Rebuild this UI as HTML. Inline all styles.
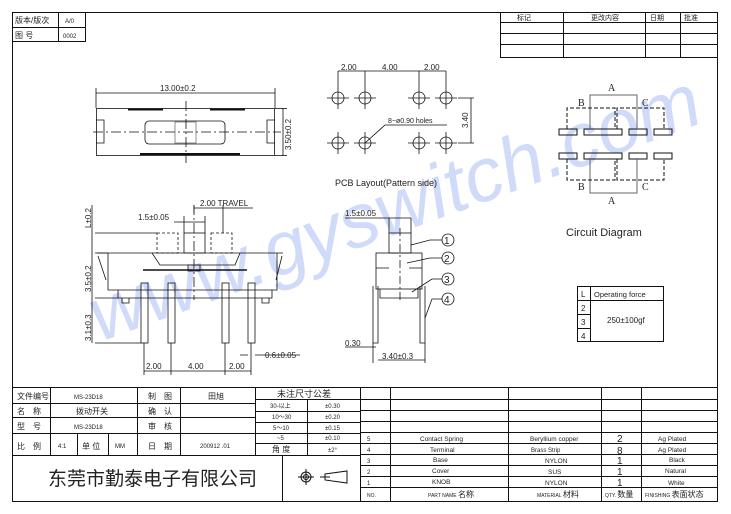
<!DOCTYPE html>
<html><head><meta charset="utf-8"><style>
html,body{margin:0;padding:0;background:#fff;}
svg{display:block;}
text{font-family:"Liberation Sans","Noto Sans CJK SC",sans-serif;fill:#222;}
</style></head><body>
<svg width="731" height="514" viewBox="0 0 731 514" xmlns="http://www.w3.org/2000/svg">
<!-- watermark -->
<text x="100" y="342" transform="rotate(-20 100 342)" font-size="76" font-style="italic" textLength="645" lengthAdjust="spacingAndGlyphs" style="fill:#d0daf9">www.gyswitch.com</text>

<g fill="none" stroke="#111" stroke-width="1">
<rect x="12.5" y="12.5" width="705" height="489"/>
<rect x="12.5" y="12.5" width="73" height="29"/>
<line x1="12" y1="27.5" x2="85" y2="27.5"/>
<line x1="58.5" y1="12" x2="58.5" y2="42"/>
<rect x="500.5" y="12.5" width="217" height="45"/>
<line x1="500" y1="22.5" x2="718" y2="22.5"/>
<line x1="500" y1="33.5" x2="718" y2="33.5"/>
<line x1="500" y1="44.5" x2="718" y2="44.5"/>
<line x1="563.5" y1="12" x2="563.5" y2="58"/>
<line x1="645.5" y1="12" x2="645.5" y2="58"/>
<line x1="680.5" y1="12" x2="680.5" y2="58"/>

<line x1="12" y1="387.5" x2="718" y2="387.5"/>
<line x1="12" y1="403.5" x2="255" y2="403.5"/>
<line x1="12" y1="417.5" x2="255" y2="417.5"/>
<line x1="12" y1="433.5" x2="255" y2="433.5"/>
<line x1="12" y1="455.5" x2="360" y2="455.5"/>
<line x1="50.5" y1="387" x2="50.5" y2="455"/>
<line x1="77.5" y1="433" x2="77.5" y2="455"/>
<line x1="108.5" y1="433" x2="108.5" y2="455"/>
<line x1="137.5" y1="387" x2="137.5" y2="455"/>
<line x1="180.5" y1="387" x2="180.5" y2="455"/>
<line x1="255.5" y1="387" x2="255.5" y2="455"/>
<line x1="307.5" y1="399" x2="307.5" y2="455"/>
<line x1="255" y1="399.5" x2="360" y2="399.5"/>
<line x1="255" y1="411.5" x2="360" y2="411.5"/>
<line x1="255" y1="422.5" x2="360" y2="422.5"/>
<line x1="255" y1="433.5" x2="360" y2="433.5"/>
<line x1="255" y1="443.5" x2="360" y2="443.5"/>
<line x1="282.5" y1="455" x2="282.5" y2="501"/>
<line x1="360.5" y1="387" x2="360.5" y2="501"/>
<line x1="390.5" y1="387" x2="390.5" y2="501"/>
<line x1="508.5" y1="387" x2="508.5" y2="501"/>
<line x1="601.5" y1="387" x2="601.5" y2="501"/>
<line x1="641.5" y1="387" x2="641.5" y2="501"/>
<line x1="360" y1="399.5" x2="718" y2="399.5"/>
<line x1="360" y1="410.5" x2="718" y2="410.5"/>
<line x1="360" y1="421.5" x2="718" y2="421.5"/>
<line x1="360" y1="432.5" x2="718" y2="432.5"/>
<line x1="360" y1="443.5" x2="718" y2="443.5"/>
<line x1="360" y1="454.5" x2="718" y2="454.5"/>
<line x1="360" y1="465.5" x2="718" y2="465.5"/>
<line x1="360" y1="476.5" x2="718" y2="476.5"/>
<line x1="360" y1="487.5" x2="718" y2="487.5"/>
<circle cx="306" cy="477" r="5"/><circle cx="306" cy="477" r="2.5"/>
<line x1="298" y1="477" x2="314" y2="477"/><line x1="306" y1="469" x2="306" y2="485"/>
<path d="M325 474 L347 471 L347 483 L325 480 Z"/><line x1="320" y1="477" x2="330" y2="477"/>
</g>

<g font-size="7">
<text x="15" y="23" font-size="8">版本/版次</text>
<text x="65" y="23" font-size="6">A/0</text>
<text x="15" y="38" font-size="8">图 号</text>
<text x="63" y="38" font-size="6">0002</text>
<text x="517" y="20" font-size="7">标记</text>
<text x="591" y="20" font-size="7">更改内容</text>
<text x="650" y="20" font-size="7">日期</text>
<text x="684" y="20" font-size="7">批准</text>

<text x="17" y="399" font-size="8">文件编号</text>
<text x="74" y="399" font-size="6">MS-23D18</text>
<text x="148" y="399" font-size="8">制　图</text>
<text x="208" y="399" font-size="8">田旭</text>
<text x="17" y="414" font-size="8">名　称</text>
<text x="76" y="414" font-size="8">拨动开关</text>
<text x="148" y="414" font-size="8">确　认</text>
<text x="17" y="429" font-size="8">型　号</text>
<text x="74" y="429" font-size="6">MS-23D18</text>
<text x="148" y="429" font-size="8">审　核</text>
<text x="17" y="449" font-size="8">比　例</text>
<text x="58" y="448" font-size="6">4:1</text>
<text x="82" y="449" font-size="8">单 位</text>
<text x="115" y="448" font-size="6">MM</text>
<text x="148" y="449" font-size="8">日　期</text>
<text x="200" y="448" font-size="6">200912 .01</text>
<text x="277" y="397" font-size="9">未注尺寸公差</text>
<text x="270" y="408" font-size="6">30-以上</text>
<text x="325" y="408" font-size="6">±0.30</text>
<text x="272" y="419" font-size="6">10～30</text>
<text x="325" y="419" font-size="6">±0.20</text>
<text x="273" y="430" font-size="6">5～10</text>
<text x="325" y="430" font-size="6">±0.15</text>
<text x="277" y="440" font-size="6">~5</text>
<text x="325" y="440" font-size="6">±0.10</text>
<text x="272" y="452" font-size="8">角 度</text>
<text x="328" y="452" font-size="6">±2°</text>
<text x="48" y="485" font-size="19">东莞市勤泰电子有限公司</text>

<text x="367" y="441" font-size="6">5</text>
<text x="420" y="441" font-size="6.5">Contact Spring</text>
<text x="530" y="441" font-size="6.5">Beryllium copper</text>
<text x="617" y="442" font-size="10">2</text>
<text x="658" y="441" font-size="6.5">Ag Plated</text>
<text x="367" y="452" font-size="6">4</text>
<text x="430" y="452" font-size="6.5">Terminal</text>
<text x="531" y="452" font-size="6">Brass Strip</text>
<text x="617" y="454" font-size="10">8</text>
<text x="658" y="452" font-size="6.5">Ag Plated</text>
<text x="367" y="463" font-size="6">3</text>
<text x="433" y="462" font-size="6.5">Base</text>
<text x="545" y="463" font-size="6.5">NYLON</text>
<text x="617" y="464" font-size="10">1</text>
<text x="669" y="462" font-size="6.5">Black</text>
<text x="367" y="474" font-size="6">2</text>
<text x="432" y="473" font-size="6.5">Cover</text>
<text x="548" y="474" font-size="6.5">SUS</text>
<text x="617" y="475" font-size="10">1</text>
<text x="665" y="473" font-size="6.5">Natural</text>
<text x="367" y="485" font-size="6">1</text>
<text x="432" y="484" font-size="6.5">KNOB</text>
<text x="545" y="485" font-size="6.5">NYLON</text>
<text x="617" y="486" font-size="10">1</text>
<text x="668" y="485" font-size="6.5">White</text>
<text x="367" y="497" font-size="5">NO.</text>
<text x="428" y="497" font-size="5">PART NAME <tspan font-size="8">名称</tspan></text>
<text x="537" y="497" font-size="5">MATERIAL <tspan font-size="8">材料</tspan></text>
<text x="605" y="497" font-size="5">QTY. <tspan font-size="8">数量</tspan></text>
<text x="645" y="497" font-size="5">FINISHING <tspan font-size="8">表面状态</tspan></text>
</g>

<!-- TOP VIEW -->
<g fill="none" stroke="#111" stroke-width="0.8">
<line x1="96" y1="88" x2="96" y2="108"/><line x1="275" y1="88" x2="275" y2="108"/>
<line x1="96" y1="93" x2="275" y2="93"/>
<rect x="96.5" y="108.5" width="178" height="47"/>
<path d="M96 120 h8 v23 h-8 M275 120 h-8 v23 h8"/>
<rect x="145" y="121" width="80" height="23" rx="4"/>
<rect x="175" y="122" width="21" height="21" stroke="#777"/>
<line x1="275" y1="108.5" x2="287" y2="108.5"/><line x1="275" y1="155.5" x2="287" y2="155.5"/>
<line x1="283" y1="108" x2="283" y2="156"/>
<line x1="93" y1="132" x2="281" y2="132" stroke-dasharray="10,3,2,3"/>
<line x1="186" y1="101" x2="186" y2="163" stroke-dasharray="10,3,2,3"/>
<path d="M128 109.5 H163 M210 109.5 H245 M140 154 H240" stroke-width="2"/>
</g>
<text x="160" y="91" font-size="8">13.00±0.2</text>
<text x="291" y="150" font-size="8" transform="rotate(-90 291 150)">3.50±0.2</text>

<!-- PCB -->
<g fill="none" stroke="#111" stroke-width="0.8">
<circle cx="338" cy="98" r="6"/><circle cx="365" cy="98" r="6"/><circle cx="419" cy="98" r="6"/><circle cx="446" cy="98" r="6"/>
<circle cx="338" cy="143" r="6"/><circle cx="365" cy="143" r="6"/><circle cx="419" cy="143" r="6"/><circle cx="446" cy="143" r="6"/>
<path d="M327 98h22M338 87v22M354 98h22M365 87v22M408 98h22M419 87v22M435 98h22M446 87v22
M327 143h22M338 132v22M354 143h22M365 132v22M408 143h22M419 132v22M435 143h22M446 132v22"/>
<path d="M338 71v16M365 71v16M419 71v16M446 71v16M338 71H446"/>
<path d="M458 98h16M458 143h16M471 98v45"/>
<path d="M365 143 L385 125 H447"/>
</g>
<text x="341" y="70" font-size="8">2.00</text>
<text x="382" y="70" font-size="8">4.00</text>
<text x="424" y="70" font-size="8">2.00</text>
<text x="468" y="128" font-size="8" transform="rotate(-90 468 128)">3.40</text>
<text x="388" y="123" font-size="7">8−ø0.90 holes</text>
<text x="335" y="186" font-size="9">PCB Layout(Pattern side)</text>

<!-- SIDE VIEW -->
<g fill="none" stroke="#111" stroke-width="0.8">
<rect x="184" y="233" width="21" height="20"/>
<rect x="157" y="233" width="21" height="20" stroke-dasharray="3,2"/>
<rect x="211" y="233" width="21" height="20" stroke-dasharray="3,2"/>
<path d="M97 253 H283"/>
<path d="M108 253 V290 H277 V253"/>
<path d="M118 290 V298 H272 V290"/>
<path d="M152 253 L160 265 H235 L240 253"/>
<path d="M143 270 H247" stroke-width="1.6"/>
<path d="M98 256 L106 280 M282 256 L276 280"/>
<rect x="188" y="265" width="12" height="6"/>
<rect x="141" y="283" width="7" height="60"/>
<rect x="168" y="283" width="7" height="60"/>
<rect x="222" y="283" width="7" height="60"/>
<rect x="248" y="283" width="7" height="60"/>
<path d="M122 298 v5 h7 v-5 M262 298 v5 h7 v-5"/>
<line x1="194" y1="205" x2="194" y2="300" stroke-dasharray="10,3,2,3"/>
<path d="M144 343v32M171 343v32M225 343v32M251 343v32M144 371H251"/>
<path d="M184 216v17M205 216v17M174 222H205M194 205v8M223 205v28M194 208H253"/>
<path d="M95 233H157M95 253H108M95 298H118M95 343H141M92 205v138"/>
<path d="M248 355H240M255 355H300"/>
</g>
<text x="146" y="369" font-size="8">2.00</text>
<text x="188" y="369" font-size="8">4.00</text>
<text x="229" y="369" font-size="8">2.00</text>
<text x="138" y="220" font-size="8">1.5±0.05</text>
<text x="200" y="206" font-size="8">2.00  TRAVEL</text>
<text x="265" y="358" font-size="8">0.6±0.05</text>
<text x="91" y="228" font-size="8" transform="rotate(-90 91 228)">L±0.2</text>
<text x="91" y="292" font-size="8" transform="rotate(-90 91 292)">3.5±0.2</text>
<text x="91" y="341" font-size="8" transform="rotate(-90 91 341)">3.1±0.3</text>

<!-- RIGHT SIDE VIEW -->
<g fill="none" stroke="#111" stroke-width="0.8">
<rect x="389" y="233" width="22" height="20"/>
<rect x="376" y="253" width="46" height="36"/>
<path d="M376 268 h13 M422 268 h-13"/>
<path d="M380 289 v9 h38 v-9"/>
<path d="M373 286 V343 H378 V286 M420 286 V343 H425 V286"/>
<line x1="400" y1="228" x2="400" y2="300" stroke-dasharray="8,3,2,3"/>
<path d="M389 218v15M411 218v15M345 218H411"/>
<path d="M373 343v20M425 343v20M378 360H425 M345 347H376"/>
<path d="M411 245 L430 240 H442 M407 263 L430 258 H442 M412 292 L432 279 H442 M425 318 L432 299 H442"/>
<circle cx="448" cy="240" r="6"/><circle cx="448" cy="258" r="6"/><circle cx="448" cy="279" r="6"/><circle cx="448" cy="299" r="6"/>
</g>
<text x="444" y="244" font-size="10">1</text>
<text x="444" y="262" font-size="10">2</text>
<text x="444" y="283" font-size="10">3</text>
<text x="444" y="303" font-size="10">4</text>
<text x="345" y="216" font-size="8">1.5±0.05</text>
<text x="345" y="346" font-size="8">0.30</text>
<text x="382" y="359" font-size="8">3.40±0.3</text>

<!-- CIRCUIT -->
<g fill="none" stroke="#111" stroke-width="1">
<rect x="559" y="129" width="18" height="6"/><rect x="584" y="129" width="38" height="6"/><rect x="629" y="129" width="18" height="6"/><rect x="654" y="129" width="18" height="6"/>
<rect x="559" y="153" width="18" height="6"/><rect x="584" y="153" width="38" height="6"/><rect x="629" y="153" width="18" height="6"/><rect x="654" y="153" width="18" height="6"/>
<path d="M590 129 V95 H637 V129 M590 159 V193 H637 V159" stroke="#666"/>
<path d="M567 129 V108 H615 V129 M617 129 V108 H664 V129 M567 159 V180 H615 V159 M617 159 V180 H664 V159" stroke-dasharray="4,2"/>
<rect x="577.5" y="286.5" width="86" height="55"/>
<path d="M577 300.5H664M577 314.5H590M577 328.5H590M590.5 286V342"/>
</g>
<text x="608" y="91" font-size="10" style="font-family:'Liberation Serif',serif">A</text>
<text x="608" y="204" font-size="10" style="font-family:'Liberation Serif',serif">A</text>
<text x="578" y="106" font-size="10" style="font-family:'Liberation Serif',serif">B</text>
<text x="642" y="106" font-size="10" style="font-family:'Liberation Serif',serif">C</text>
<text x="578" y="190" font-size="10" style="font-family:'Liberation Serif',serif">B</text>
<text x="642" y="190" font-size="10" style="font-family:'Liberation Serif',serif">C</text>
<text x="566" y="236" font-size="11">Circuit  Diagram</text>
<text x="581" y="297" font-size="8">L</text>
<text x="594" y="297" font-size="7.5">Operating force</text>
<text x="581" y="311" font-size="8">2</text>
<text x="581" y="325" font-size="8">3</text>
<text x="581" y="339" font-size="8">4</text>
<text x="607" y="323" font-size="8">250±100gf</text>
</svg>
</body></html>
